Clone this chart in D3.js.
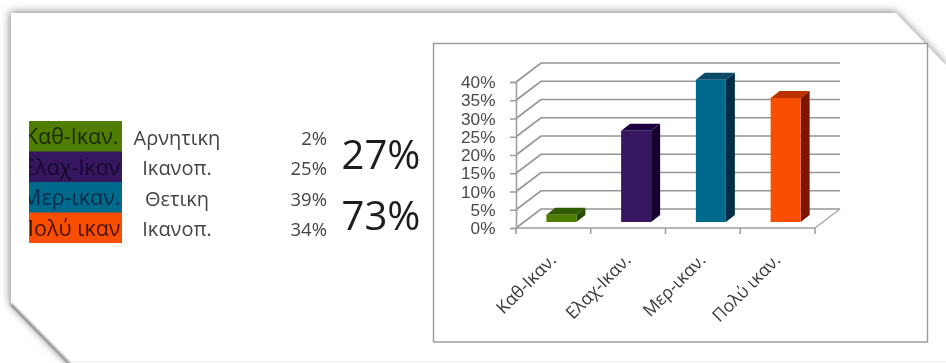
<!DOCTYPE html>
<html><head><meta charset="utf-8">
<script src="https://cdn.jsdelivr.net/npm/d3@7"></script>
<style>html,body{margin:0;padding:0;background:#fff;overflow:hidden}svg{display:block}</style>
</head><body><svg id="c" width="946" height="363"></svg>
<script>
const categories=["Καθ-Ικαν.","Ελαχ-Ικαν.","Μερ-ικαν.","Πολύ ικαν."];
const legendLabels=["Καθ-Ικαν.","Ελαχ-Ικαν","Μερ-ικαν.","Πολύ ικαν"];
const attitudes=["Αρνητικη","Ικανοπ.","Θετικη","Ικανοπ."];
const values=[2,25,39,34];
const groupLabels=["27%","73%"];
const ticks=[0,5,10,15,20,25,30,35,40];
const frontColors=["#4f7d00","#35175f","#006b8c","#f94e00"];
const topColors=["#2f5a00","#1c0640","#0f4a68","#b93000"];
const sideColors=["#264d00","#12042e","#062f4a","#7d1500"];
const textColors=["#1c2a00","#16082f","#0a2a48","#4a1200"];

const svg=d3.select("#c");
const font="'Open Sans','Noto Sans',sans-serif";
const defs=svg.append("defs");
const f=defs.append("filter").attr("id","blur").attr("x","-5%").attr("y","-8%").attr("width","110%").attr("height","116%");
f.append("feGaussianBlur").attr("stdDeviation",4);
const soft=defs.append("filter").attr("id","soft");
soft.append("feGaussianBlur").attr("stdDeviation",0.6);
const softT=defs.append("filter").attr("id","softT");
softT.append("feGaussianBlur").attr("stdDeviation",0.45);
const edge=defs.append("filter").attr("id","edge").attr("x","-10%").attr("y","-10%").attr("width","120%").attr("height","120%");
edge.append("feGaussianBlur").attr("stdDeviation",0.8);

// paper with cut corners, shadow behind
const paper=[[11,13],[896,13],[946,65],[946,370],[75,370],[11,304]];
const line=d3.line();
svg.append("path").attr("d",line(paper)+"Z").attr("fill","#808080").attr("filter","url(#blur)").attr("transform","translate(-1,-1)");
svg.append("path").attr("d",line(paper)+"Z").attr("fill","#fff");
svg.append("line").attr("x1",70).attr("x2",946).attr("y1",361.5).attr("y2",361.5).attr("stroke","#f2f2f2");
svg.append("path").attr("d",line([[11.5,14],[11.5,304]])).attr("stroke","#a8a8a8").attr("stroke-width",2).attr("fill","none").attr("filter","url(#edge)");
svg.append("path").attr("d",line([[11,304],[70,364]])).attr("stroke","#555").attr("stroke-width",1.6).attr("fill","none").attr("filter","url(#edge)");

// chart frame
svg.append("rect").attr("x",433.5).attr("y",43.5).attr("width",494).attr("height",298.5).attr("fill","#fff").attr("stroke","#999").attr("stroke-width",1.4);

const chart=svg.append("g").attr("filter","url(#soft)");
const x=d3.scaleBand().domain(categories).range([516,815]);
const y=d3.scaleLinear().domain([0,40]).range([228,82]);
const depthX=25,depthY=-19,barDX=8,barDY=-6,barW=30,barDepthX=9,barDepthY=-7;

// back wall gridlines and left wall
ticks.forEach(t=>{
  chart.append("path").attr("d",line([[516,y(t)],[516+depthX,y(t)+depthY],[815+depthX,y(t)+depthY]]))
    .attr("fill","none").attr("stroke","#969696").attr("stroke-width",1.7);
});
chart.append("path").attr("d",line([[815,228],[815+depthX,228+depthY]])).attr("stroke","#a8a8a8").attr("stroke-width",1.5).attr("fill","none");
// axes
const yAxis=d3.axisLeft(y).tickValues(ticks).tickSize(6).tickFormat(d=>d+"%");
const ya=chart.append("g").attr("transform","translate(516,0)").call(yAxis);
ya.select(".domain").attr("stroke","#a0a0a0").attr("stroke-width",1.6);
ya.selectAll("line").attr("stroke","#a0a0a0").attr("stroke-width",1.6);
ya.selectAll("text").remove();
chart.append("line").attr("x1",516).attr("x2",815).attr("y1",228).attr("y2",228).attr("stroke","#a0a0a0").attr("stroke-width",1.6);
const xEdges=categories.map(c=>x(c)).concat([815]);
chart.selectAll(".xt").data(xEdges).enter().append("line").attr("x1",d=>d).attr("x2",d=>d).attr("y1",228).attr("y2",234).attr("stroke","#a0a0a0").attr("stroke-width",1.6);

// bars
categories.forEach((c,i)=>{
  const x0=x(c)+x.bandwidth()/2+barDX-barW/2, x1=x0+barW;
  const yb=y(0)+barDY, yt=y(values[i])+barDY;
  chart.append("path").attr("d",line([[x0,yt],[x0+barDepthX,yt+barDepthY],[x1+barDepthX,yt+barDepthY],[x1,yt]])+"Z").attr("fill",topColors[i]);
  chart.append("path").attr("d",line([[x1,yt],[x1+barDepthX,yt+barDepthY],[x1+barDepthX,yb+barDepthY],[x1,yb]])+"Z").attr("fill",sideColors[i]);
  chart.append("rect").attr("x",x0).attr("y",yt).attr("width",barW).attr("height",yb-yt).attr("fill",frontColors[i]);
});

// tick labels: tight line box so neighbouring labels stay apart, stretched to the reference's width
const tl=svg.append("g").attr("filter","url(#softT)").attr("fill","#4a4a4a");
ticks.forEach(t=>{
  const el=tl.append("text").attr("x",495.5).attr("y",y(t)+6).attr("text-anchor","end").attr("font-family","'Liberation Sans',sans-serif").attr("font-size",15.7).text(t+"%");
  const w=el.node().getComputedTextLength();
  el.attr("textLength",w*1.1).attr("lengthAdjust","spacingAndGlyphs");
});
categories.forEach(c=>{
  const cx=x(c)+x.bandwidth()/2+4;
  tl.append("text").attr("transform",`translate(${cx},261) rotate(-45)`).attr("text-anchor","end").attr("font-family",font).attr("font-size",17.5).attr("fill","#3a3a3a").text(c);
});

// left table
const rowY=d3.scaleBand().domain(d3.range(4)).range([121,243]);
const tb=svg.append("g").attr("font-family",font).attr("filter","url(#softT)");
const clip=defs.append("clipPath").attr("id","sw");
clip.append("rect").attr("x",29).attr("y",121).attr("width",93).attr("height",122);
const sw=tb.append("g").attr("clip-path","url(#sw)");
values.forEach((v,i)=>{
  const my=rowY(i)+rowY.bandwidth()/2;
  sw.append("rect").attr("x",29).attr("y",rowY(i)).attr("width",93).attr("height",rowY.bandwidth()+0.5).attr("fill",frontColors[i]);
  sw.append("text").attr("x",[118.5,120.5,120.5,120.5][i]).attr("y",my+8).attr("text-anchor","end").attr("font-size",21.5).attr("fill",textColors[i]).text(legendLabels[i]);
  tb.append("text").attr("x",177).attr("y",my+8.5).attr("text-anchor","middle").attr("font-size",20).attr("fill","#444").text(attitudes[i]);
  tb.append("text").attr("x",327).attr("y",my+8.5).attr("text-anchor","end").attr("font-size",18.5).attr("fill","#444").text(v+"%");
});
groupLabels.forEach((g,i)=>{
  tb.append("text").attr("x",381).attr("y",[169,230][i]).attr("text-anchor","middle").attr("font-size",40).attr("fill","#1c1c1c").text(g);
});
</script></body></html>
